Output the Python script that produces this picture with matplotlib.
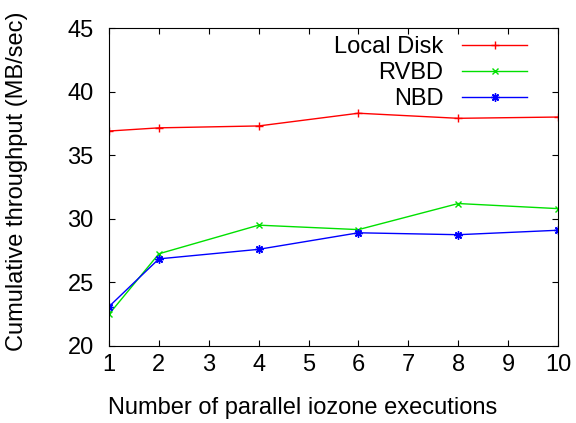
import matplotlib
matplotlib.use("Agg")
from matplotlib import pyplot as plt

# data
x = [1, 2, 4, 6, 8, 10]
local_disk = [36.9, 37.15, 37.3, 38.3, 37.9, 38.0]
rvbd = [22.5, 27.25, 29.5, 29.15, 31.2, 30.8]
nbd = [23.1, 26.85, 27.6, 28.9, 28.75, 29.1]

xticks = list(range(1, 11))
yticks = [20, 25, 30, 35, 40, 45]

plt.rcParams['font.family'] = ['Liberation Sans', 'DejaVu Sans']
fs = 17

fig = plt.figure(figsize=(5.76, 4.23), dpi=100)
ax = fig.add_axes([109 / 576, 1 - 346 / 423, 449 / 576, 318 / 423])

ax.plot(x, local_disk, color='#ff0000', lw=1, marker='+', ms=6, mew=1, label='Local Disk')
ax.plot(x, rvbd, color='#00e000', lw=1, marker='x', ms=5, mew=1, label='RVBD')
ax.plot(x, nbd, color='#0000ff', lw=1, marker=(8, 2, 0), ms=6, mew=1, label='NBD')

ax.set_xlim(1, 10)
ax.set_ylim(20, 45)
ax.set_xticks(xticks)
ax.set_yticks(yticks)
ax.tick_params(direction='in', top=True, right=True, length=4, labelsize=fs)
ax.tick_params(axis='x', pad=6)
ax.tick_params(axis='y', pad=11)

ax.set_xlabel('Number of parallel iozone executions', fontsize=fs)
ax.set_ylabel('Cumulative throughput (MB/sec)', fontsize=fs)
ax.xaxis.set_label_coords(0.431, -0.195)
ax.xaxis.label.set_va('center')
ax.yaxis.set_label_coords(-0.205, 0.517)
ax.yaxis.label.set_va('center')

leg = ax.legend(loc='upper right', bbox_to_anchor=(0.931, 0.975), frameon=False,
                markerfirst=False, fontsize=fs, handlelength=2.75, handletextpad=0.8,
                labelspacing=0.17, borderpad=0, borderaxespad=0)
for t in leg.get_texts():
    t.set_ha('right')

fig.savefig('out.png', dpi=100)
